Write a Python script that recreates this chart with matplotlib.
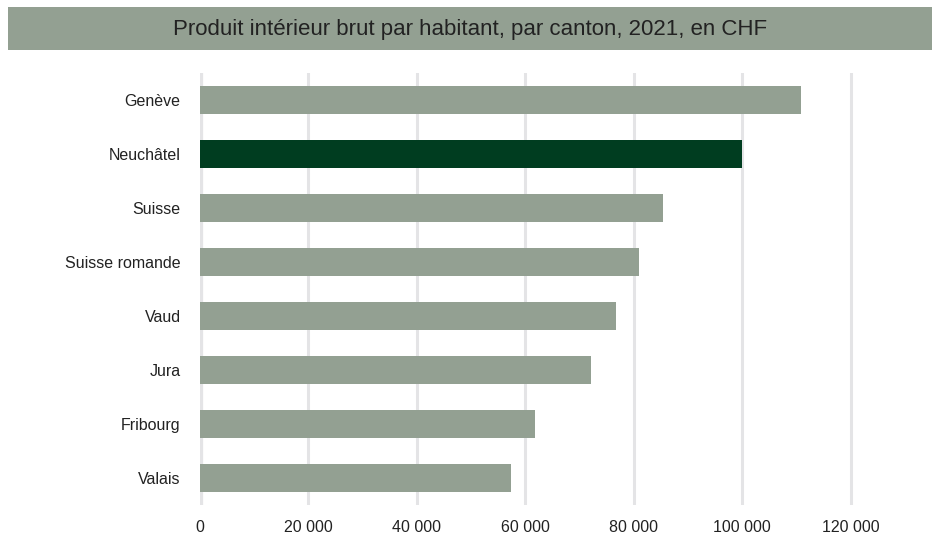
import matplotlib
matplotlib.use("Agg")
import matplotlib.pyplot as plt
from matplotlib.patches import Rectangle
from matplotlib.ticker import FuncFormatter

# data
regions = ["Genève", "Neuchâtel", "Suisse", "Suisse romande",
           "Vaud", "Jura", "Fribourg", "Valais"]
gdp = [110800, 99900, 85400, 80900, 76800, 72150, 61750, 57350]
highlight = "Neuchâtel"

ticks = [0, 20000, 40000, 60000, 80000, 100000, 120000]

grey_green = "#93a092"
dark_green = "#003d20"
grid_col = "#e4e4e6"
text_col = "#222222"

plt.rcParams["font.family"] = ["Liberation Sans", "DejaVu Sans"]

fig = plt.figure(figsize=(9.41, 5.38), dpi=100)

# title banner
fig.patches.append(Rectangle((8 / 941, 1 - 50 / 538), 924 / 941, 43 / 538,
                             transform=fig.transFigure, facecolor=grey_green,
                             edgecolor="none"))
fig.text(0.5, 1 - 29 / 538,
         "Produit intérieur brut par habitant, par canton, 2021, en CHF",
         ha="center", va="center", fontsize=16, color=text_col)

ax = fig.add_axes([200 / 941, 1 - 505 / 538, 732 / 941, 432 / 538])

colors = [dark_green if r == highlight else grey_green for r in regions]
ypos = list(range(len(regions)))
ax.barh(ypos, gdp, height=0.52, color=colors, zorder=3)

ax.set_xlim(0, 135000)
ax.set_ylim(len(regions) - 0.5, -0.5)
ax.set_xticks(ticks)
ax.xaxis.set_major_formatter(FuncFormatter(lambda v, p: f"{int(v):,}".replace(",", " ")))
ax.set_yticks(ypos)
ax.set_yticklabels(regions)

ax.tick_params(axis="both", length=0, labelsize=11.5, colors=text_col)
ax.tick_params(axis="x", pad=11)
ax.tick_params(axis="y", pad=14)

for t in ticks:
    ax.axvline(t, color=grid_col, lw=2.2 if t else 4.5, zorder=1)

for s in ax.spines.values():
    s.set_visible(False)

fig.savefig("out.png", dpi=100)
